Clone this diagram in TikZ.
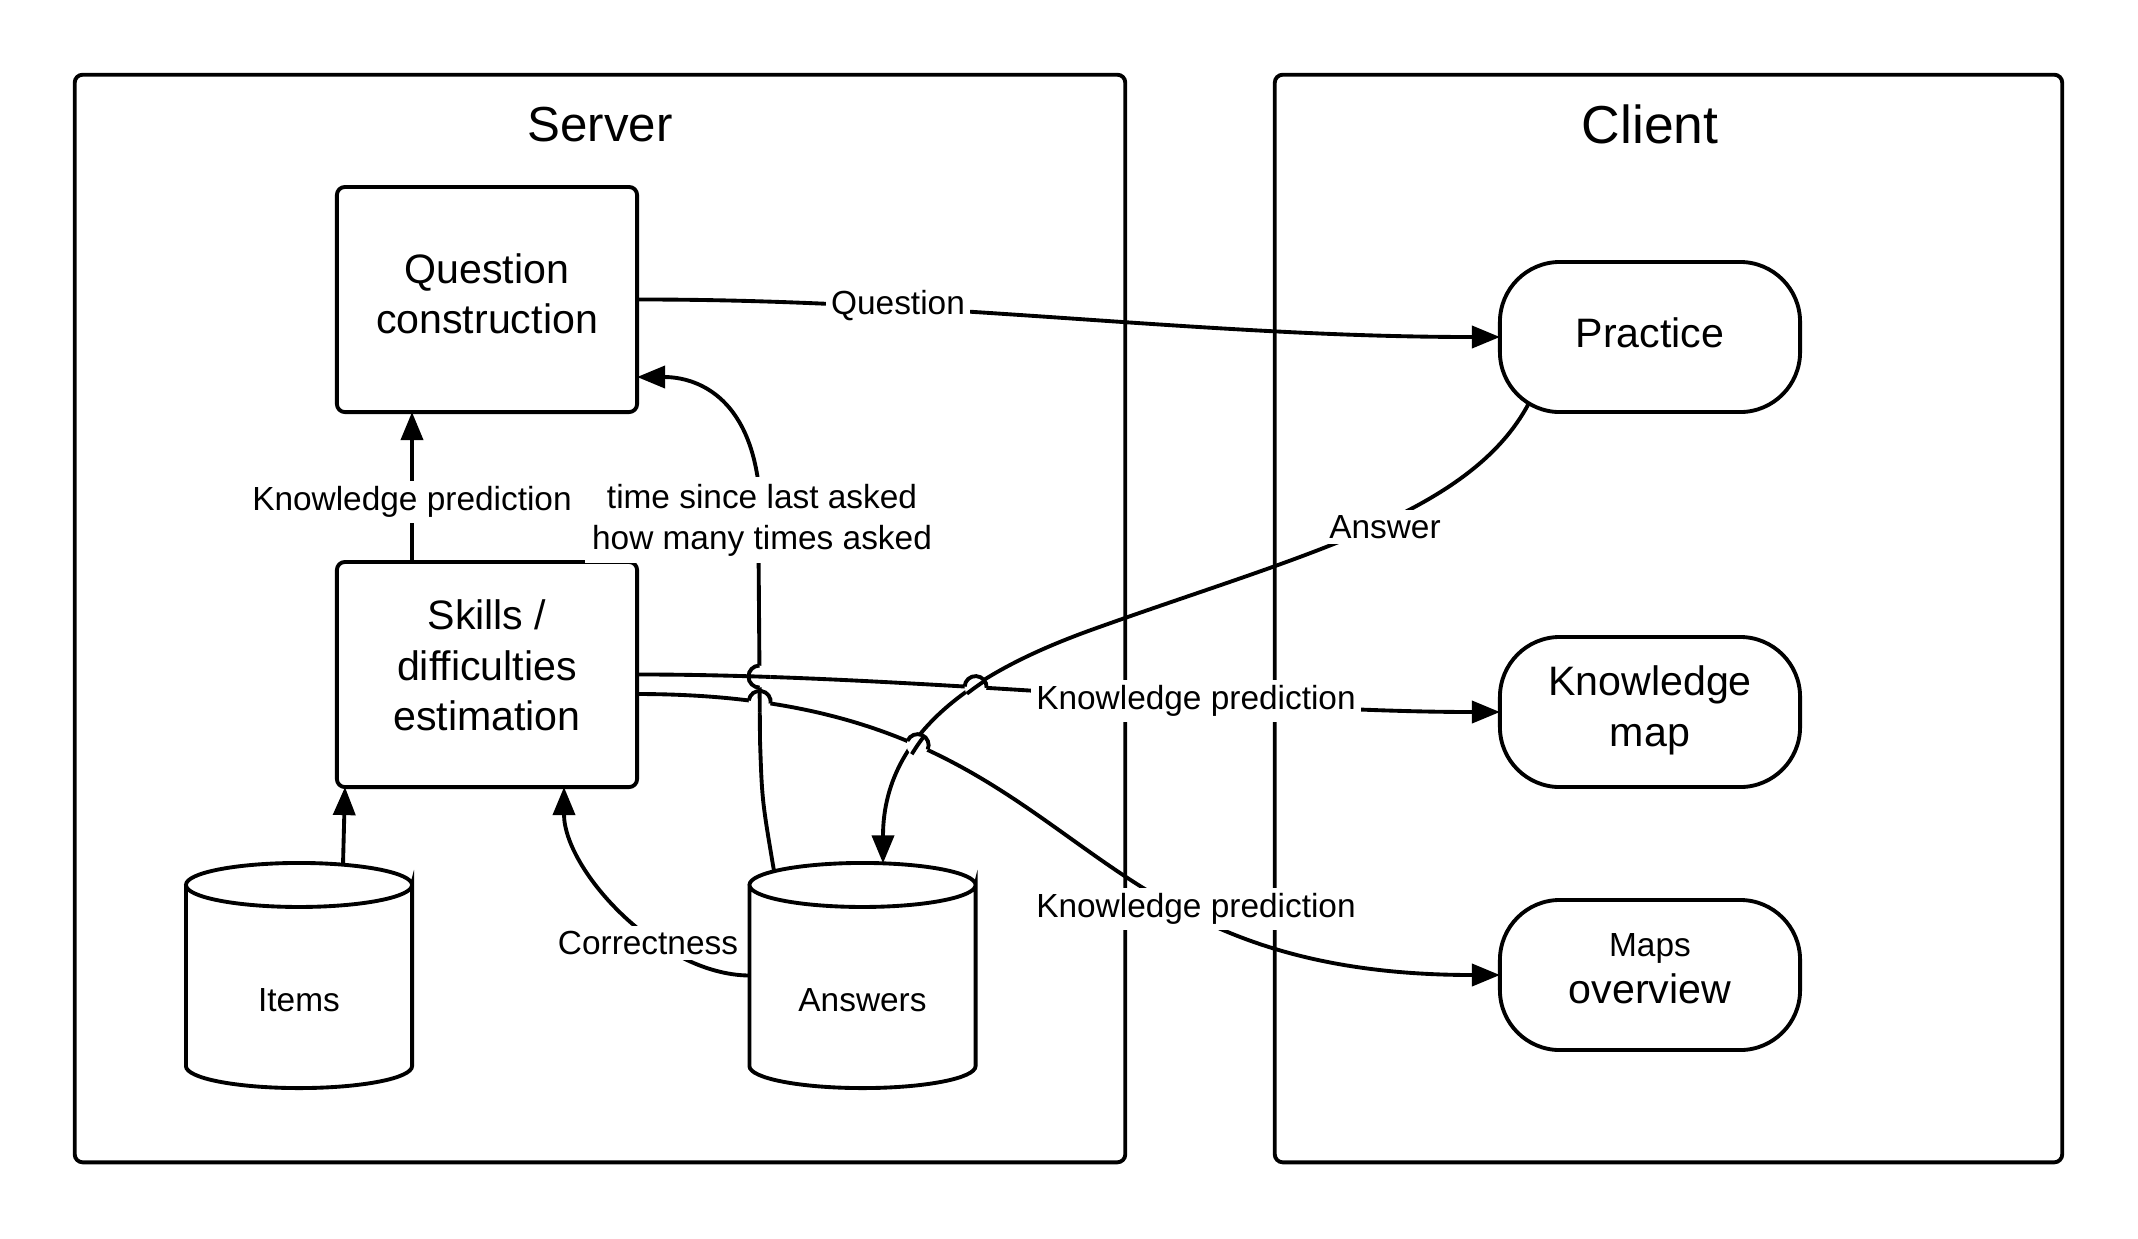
\documentclass[tikz,border=0pt]{standalone}
\usepackage{fontspec}
\setmainfont{Liberation Sans}
\usetikzlibrary{arrows.meta,calc,intersections}
\newcommand\myboxfont{\fontsize{11.7}{14.4}\selectfont}
\newcommand\mylblfont{\fontsize{9.5}{11.7}\selectfont}
\newcommand\mycyl[1]{%
  \draw ([yshift=-0.22cm]#1.north west) -- ([yshift=0.22cm]#1.south west)
    arc[start angle=180,end angle=360,x radius=1.13cm,y radius=0.22cm]
    -- ([yshift=-0.22cm]#1.north east)
    arc[start angle=0,end angle=-180,x radius=1.13cm,y radius=0.22cm]
    arc[start angle=180,end angle=0,x radius=1.13cm,y radius=0.22cm];}
\newcommand\myhop[3]{%
  \fill[white] (#1) circle[radius=0.11cm];
  \begin{scope}\clip (#1) circle[radius=0.11cm]; \draw #3; \end{scope}
  \draw ($(#1)+(#2+180:0.11cm)$) arc[start angle=#2+180,end angle=#2,radius=0.11cm];}
\begin{document}
\begin{tikzpicture}[x=0.01cm,y=-0.01cm,line width=1.1pt,
  frame/.style={draw,rounded corners=0.08cm,inner sep=0,outer sep=0},
  proc/.style={draw,rounded corners=0.08cm,minimum width=3cm,minimum height=2.25cm,
    inner sep=0,outer sep=0,align=center,font=\myboxfont},
  term/.style={draw,rounded corners=0.6cm,minimum width=3cm,minimum height=1.5cm,
    inner sep=0,outer sep=0,align=center,font=\myboxfont},
  dbase/.style={minimum width=2.26cm,minimum height=2.25cm,inner sep=0,outer sep=0,
    font=\mylblfont,text height=20.4pt},
  elabel/.style={fill=white,inner sep=1.5pt,font=\mylblfont},
  conn/.style={-{Triangle[length=0.28cm,width=0.22cm]}},
]
\fill[white] (0,0) rectangle (2138,1238);
\useasboundingbox (0,0) rectangle (2138,1238);

% frames
\node[frame,minimum width=10.5cm,minimum height=10.87cm] (server) at (600,618.5) {};
\node[frame,minimum width=7.87cm,minimum height=10.87cm] (client) at (1668.5,618.5) {};
\node[font=\fontsize{14}{17}\selectfont] (srvt) at (600,125) {Server};
\node[font=\fontsize{15.2}{18}\selectfont] (clit) at (1650,124) {Client};

% server nodes
\node[proc,text depth=3.4pt] (qc) at (487,299.5) {Question\\construction};
\node[proc,text depth=5.2pt] (sk) at (487,674.5) {Skills /\\difficulties\\estimation};
\node[dbase] (items) at (299,975.5) {Items};
\node[dbase] (ans) at (862.5,975.5) {Answers};
\mycyl{items}
\mycyl{ans}

% client nodes
\node[term,text depth=2.3pt] (pr) at (1650,337) {Practice};
\node[term,text depth=3.4pt] (km) at (1650,712) {Knowledge\\map};
\node[term,text depth=3.7pt] (mo) at (1650,975) {{\mylblfont Maps}\\[-1.2pt]overview};

% connector end points
\coordinate (as) at ($(pr.center)+(-121,66)$);
\coordinate (ae) at ($(ans.north)+(20.5,0.4)$);
\coordinate (ts) at ($(ans.north)+(-88.5,8)$);
\coordinate (te) at ($(qc.east)+(0,77.5)$);
\coordinate (l2s) at ($(sk.east)+(0,19.5)$);
\coordinate (isrc) at ($(items.north)+(44,2)$);
\coordinate (itgt) at ($(sk.south)+(-142,0)$);
\coordinate (ctgt) at ($(sk.south)+(77,0)$);
\coordinate (kps) at ($(sk.north)+(-75,0)$);
\coordinate (kpt) at ($(qc.south)+(-75,0)$);

\def\myPQ{(qc.east) .. controls (937,299) and (1200,337) .. (pr.west)}
\def\myPLa{(sk.east) .. controls (900,674) and (1250,712) .. (km.west)}
\def\myPLb{(l2s) .. controls (1093,694) and (1044,975) .. (mo.west)}
\def\myPAn{(as) .. controls (1470,515) and (1300,555) .. (1091,630) .. controls (1000,663) and (883,720) .. (ae)}
\def\myPTm{(ts) .. controls (762,800) .. (760,740) -- (758,480) .. controls (745,390) and (690,377) .. (te)}
\def\myPCo{(ans.west) .. controls (660,975) and (564,870) .. (ctgt)}

% connectors
\draw[conn] (kps) -- (kpt);
\draw[conn] (isrc) -- (itgt);
\draw[conn] \myPCo;
\draw[conn] \myPQ;
\draw[conn,name path=Tm] \myPTm;
\draw[conn,name path=La] \myPLa;
\draw[conn,name path=Lb] \myPLb;
\draw[conn,name path=An] \myPAn;

% line hops
\path[name intersections={of=La and Tm, by=hA}];
\path[name intersections={of=Lb and Tm, by=hB}];
\path[name intersections={of=La and An, by=hC}];
\path[name intersections={of=Lb and An, by=hD}];
\myhop{hA}{90.4}{\myPLa}
\myhop{hB}{-7.9}{\myPTm}
\myhop{hC}{-3.4}{\myPAn}
\myhop{hD}{-23.3}{\myPAn}

% labels
\node[elabel] (lq) at (898,306) {Question};
\node[elabel] (lkp0) at (412,502) {Knowledge prediction};
\node[elabel,align=center,inner sep=2pt] (lts) at (762,520) {time since last asked\\how many times asked};
\node[elabel] (lcor) at (648,943) {Correctness};
\node[elabel] (lans) at (1385,527) {Answer};
\node[elabel] (lkp1) at (1196,701) {Knowledge prediction};
\node[elabel] (lkp2) at (1196,909) {Knowledge prediction};
\end{tikzpicture}
\end{document}
